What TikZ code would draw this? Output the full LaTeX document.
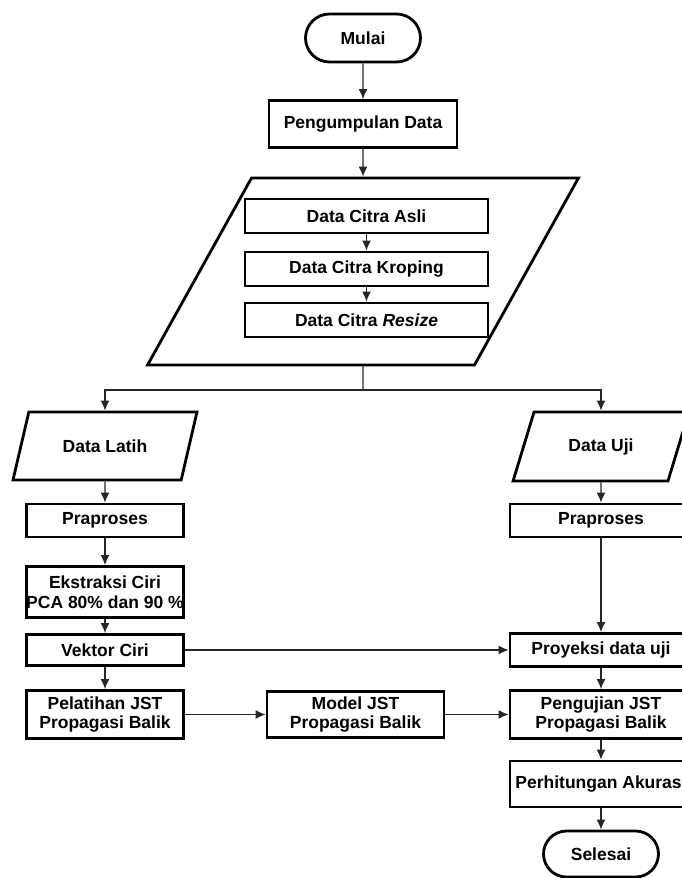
\documentclass[tikz,border=0pt]{standalone}
\usepackage{fontspec}
\setmainfont{Liberation Sans}
\usetikzlibrary{arrows.meta,shapes.geometric,shapes.misc}

\begin{document}
\begin{tikzpicture}[x=1pt,y=1pt,
    box/.style={draw,line width=2.8pt,rectangle,inner sep=0pt,align=center,
      font=\bfseries\fontsize{17.5}{19.5}\selectfont},
    term/.style={box,rounded rectangle,minimum width=115},
    io/.style={box,trapezium,inner sep=3pt,trapezium left angle=63.5,trapezium right angle=116.5,trapezium stretches=true},
    kiri/.style={box,minimum width=157},
    kanan/.style={box,minimum width=182},
    citrabox/.style={box,minimum width=243,minimum height=34},
    conn/.style={line width=1.3pt,black!85,-{Latex[length=10pt,width=9pt]}}]
    \useasboundingbox (0,0) rectangle (682,-878);
    \clip (0,0) rectangle (682,-878);
    \node[term,minimum height=48] (mulai) at (363,-38) {Mulai};
    \node[box,minimum width=188,minimum height=47] (kumpul) at (363,-124) {Pengumpulan Data};
    \node[io,minimum width=432,minimum height=187,trapezium left angle=64.3,trapezium right angle=115.7] (citra) at (363,-271.5) {\phantom{x}};
    \node[citrabox] (asli) at (366.5,-216) {Data Citra Asli};
    \node[citrabox] (kroping) at (366.5,-269) {Data Citra Kroping};
    \node[citrabox] (resize) at (366.5,-320) {Data Citra \textit{Resize}};
    \coordinate (cabang) at (363,-390);
    \node[io,minimum width=184,minimum height=68] (latih) at (105,-446) {Data Latih};
    \node[io,minimum width=176,minimum height=69] (uji) at (601,-446.5) {Data Uji};
    \node[kiri,minimum height=33] (prakiri) at (105,-520.5) {Praproses};
    \node[kiri,minimum height=51] (ekstraksi) at (105,-592) {Ekstraksi Ciri\\PCA 80\% dan 90 \%};
    \node[kiri,minimum height=31] (vektor) at (105,-650) {Vektor Ciri};
    \node[kiri,minimum height=48] (pelatihan) at (105,-714.5) {Pelatihan JST\\Propagasi Balik};
    \node[box,minimum width=177,minimum height=46] (model) at (355.5,-714.5) {Model JST\\Propagasi Balik};
    \node[kanan,minimum height=33] (prakanan) at (601,-520.5) {Praproses};
    \node[kanan,minimum height=33] (proyeksi) at (601,-650) {Proyeksi data uji};
    \node[kanan,minimum height=48] (pengujian) at (601,-714.5) {Pengujian JST\\Propagasi Balik};
    \node[kanan,minimum height=46] (akurasi) at (601,-784) {Perhitungan Akurasi};
    \node[term,minimum height=46] (selesai) at (601,-854) {Selesai};
    \draw[conn] (mulai) -- (kumpul);
    \draw[conn] (kumpul) -- (citra);
    \draw[conn] (asli) -- (kroping);
    \draw[conn] (kroping) -- (resize);
    \draw[conn,-] (citra) -- (cabang);
    \draw[conn] (cabang) -| (latih);
    \draw[conn] (cabang) -| (uji);
    \draw[conn] (latih) -- (prakiri);
    \draw[conn] (prakiri) -- (ekstraksi);
    \draw[conn] (ekstraksi) -- (vektor);
    \draw[conn] (vektor) -- (pelatihan);
    \draw[conn] (uji) -- (prakanan);
    \draw[conn] (prakanan) -- (proyeksi);
    \draw[conn] (vektor) -- (proyeksi);
    \draw[conn] (pelatihan) -- (model);
    \draw[conn] (model) -- (pengujian);
    \draw[conn] (proyeksi) -- (pengujian);
    \draw[conn] (pengujian) -- (akurasi);
    \draw[conn] (akurasi) -- (selesai);
\end{tikzpicture}
\end{document}
